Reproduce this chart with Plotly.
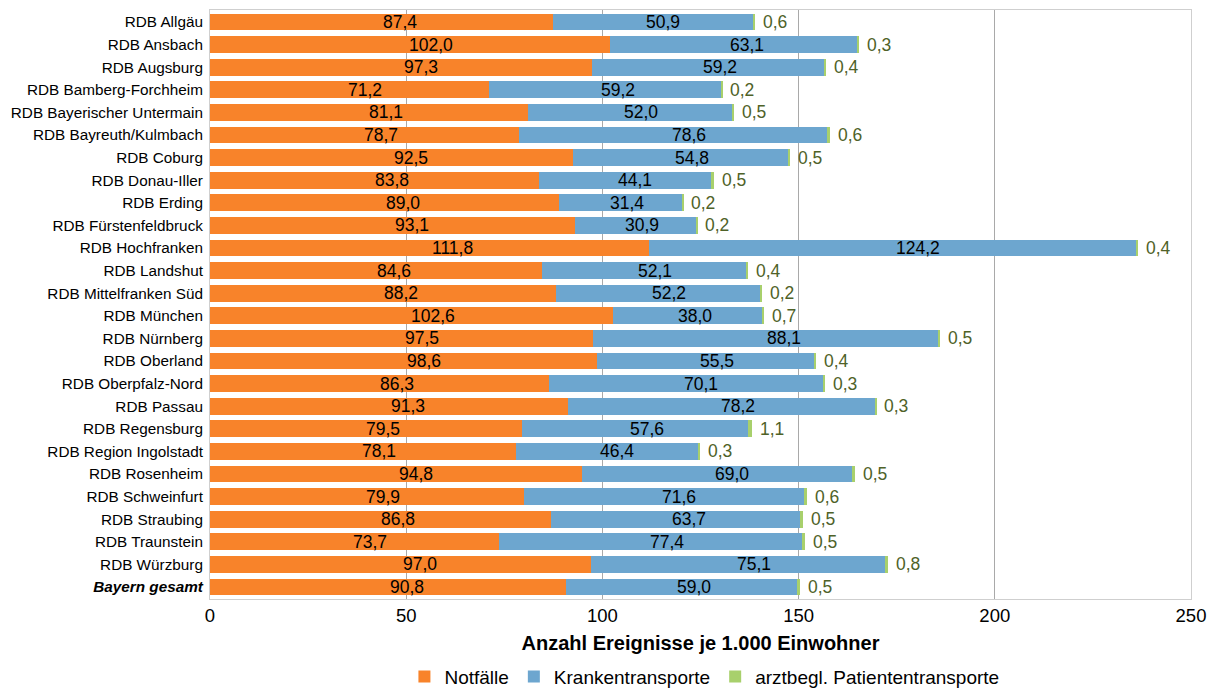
import plotly.graph_objects as go

categories = [
    "RDB Allgäu", "RDB Ansbach", "RDB Augsburg", "RDB Bamberg-Forchheim",
    "RDB Bayerischer Untermain", "RDB Bayreuth/Kulmbach", "RDB Coburg",
    "RDB Donau-Iller", "RDB Erding", "RDB Fürstenfeldbruck", "RDB Hochfranken",
    "RDB Landshut", "RDB Mittelfranken Süd", "RDB München", "RDB Nürnberg",
    "RDB Oberland", "RDB Oberpfalz-Nord", "RDB Passau", "RDB Regensburg",
    "RDB Region Ingolstadt", "RDB Rosenheim", "RDB Schweinfurt",
    "RDB Straubing", "RDB Traunstein", "RDB Würzburg", "<b><i>Bayern gesamt</i></b>",
]
notfaelle = [87.4, 102.0, 97.3, 71.2, 81.1, 78.7, 92.5, 83.8, 89.0, 93.1, 111.8, 84.6, 88.2,
             102.6, 97.5, 98.6, 86.3, 91.3, 79.5, 78.1, 94.8, 79.9, 86.8, 73.7, 97.0, 90.8]
kranken = [50.9, 63.1, 59.2, 59.2, 52.0, 78.6, 54.8, 44.1, 31.4, 30.9, 124.2, 52.1, 52.2,
           38.0, 88.1, 55.5, 70.1, 78.2, 57.6, 46.4, 69.0, 71.6, 63.7, 77.4, 75.1, 59.0]
arzt = [0.6, 0.3, 0.4, 0.2, 0.5, 0.6, 0.5, 0.5, 0.2, 0.2, 0.4, 0.4, 0.2,
        0.7, 0.5, 0.4, 0.3, 0.3, 1.1, 0.3, 0.5, 0.6, 0.5, 0.5, 0.8, 0.5]
series_names = ["Notfälle", "Krankentransporte", "arztbegl. Patiententransporte"]
x_ticks = [0, 50, 100, 150, 200, 250]
x_title = "Anzahl Ereignisse je 1.000 Einwohner"

FONT = "Liberation Sans, Arial, sans-serif"
C_ORANGE = "#F8832A"
C_BLUE = "#6DA6CF"
C_GREEN = "#A8D06C"
C_GREEN_TXT = "#4F6228"
LABEL_FRAC = 0.553  # labels sit slightly right of the segment centre in the original


def de(v):
    return f"{v:.1f}".replace(".", ",")


fig = go.Figure()
fig.add_trace(go.Bar(
    y=categories, x=notfaelle, orientation="h", name=series_names[0],
    marker=dict(color=C_ORANGE, line=dict(width=0)), textposition="none",
))
fig.add_trace(go.Bar(
    y=categories, x=kranken, orientation="h", name=series_names[1],
    marker=dict(color=C_BLUE, line=dict(width=0)), textposition="none",
))
fig.add_trace(go.Bar(
    y=categories, x=arzt, orientation="h", name=series_names[2],
    marker=dict(color=C_GREEN, line=dict(width=0)), textposition="none",
))

for cat, a, b, c in zip(categories, notfaelle, kranken, arzt):
    fig.add_annotation(x=a * LABEL_FRAC, y=cat, text=de(a), showarrow=False,
                       xanchor="center", font=dict(family=FONT, size=17.5, color="black"))
    fig.add_annotation(x=a + b * LABEL_FRAC, y=cat, text=de(b), showarrow=False,
                       xanchor="center", font=dict(family=FONT, size=17.5, color="black"))
    fig.add_annotation(x=a + b + c, y=cat, text=de(c), showarrow=False,
                       xanchor="left", xshift=6,
                       font=dict(family=FONT, size=17.5, color=C_GREEN_TXT))

# the page adds an 8px body margin, so the figure is sized to fit the window
fig.update_layout(
    barmode="stack",
    bargap=0.26,
    width=1207, height=681,
    margin=dict(l=202, r=24, t=2, b=90),
    paper_bgcolor="white", plot_bgcolor="white",
    font=dict(family=FONT, color="black"),
    legend=dict(
        orientation="h", x=0.504, xanchor="center", yref="container", y=0.018,
        yanchor="middle", font=dict(family=FONT, size=19, color="black"),
        traceorder="normal",
    ),
    showlegend=True,
)
fig.update_xaxes(
    range=[0, 250], tickvals=x_ticks, ticktext=[str(t) for t in x_ticks],
    showgrid=True, gridcolor="#A9A9A9", gridwidth=1,
    showline=True, linecolor="#CFCFCF", linewidth=1, mirror=True,
    zeroline=False, ticks="",
    tickfont=dict(family=FONT, size=18.5, color="black"),
    title=dict(text=f"<b>{x_title}</b>", font=dict(family=FONT, size=20, color="black"), standoff=10),
)
fig.update_yaxes(
    autorange="reversed", showgrid=False,
    showline=True, linecolor="#CFCFCF", linewidth=1, mirror=True,
    ticks="", ticklabelstandoff=3,
    tickfont=dict(family=FONT, size=15.3, color="black"),
)

fig.write_html("out.html")
